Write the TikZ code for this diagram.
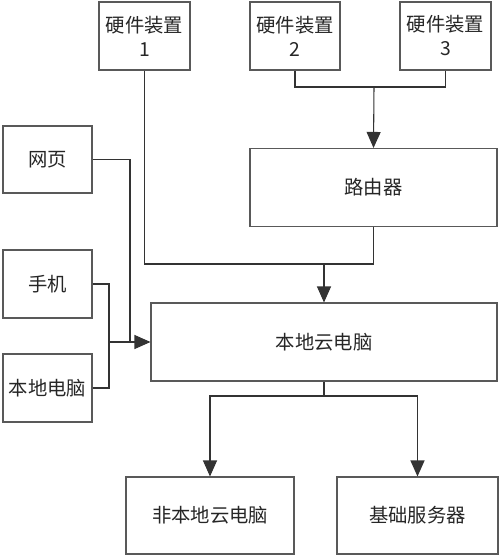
\documentclass[tikz,border=0pt]{standalone}
\usepackage{fontspec}
\setmainfont{Noto Sans CJK SC}
\usetikzlibrary{arrows.meta}
\begin{document}
\begin{tikzpicture}[x=0.75pt,y=-0.75pt,>={Triangle[length=8pt,width=7pt,scale=1.5]},font=\fontsize{14.5}{18}\selectfont]
    \tikzstyle{rec}=[draw=black!65,line width=0.8pt,rectangle,inner sep=0pt,align=center,text=black!85]
    \tikzstyle{wire}=[draw=black!80,line width=0.8pt]
    \useasboundingbox (0,0) rectangle (500,556);

    \node[rec, minimum width=68.25pt, minimum height=51pt] (hw1) at (144.5,36) {硬件装置\\1};
    \node[rec, minimum width=67.5pt, minimum height=51pt] (hw2) at (295,36) {硬件装置\\2};
    \node[rec, minimum width=68.25pt, minimum height=51pt] (hw3) at (445.5,36) {硬件装置\\3};
    \node[rec, minimum width=185.25pt, minimum height=58.5pt] (router) at (373.5,187.5) {路由器};
    \node[rec, minimum width=259.5pt, minimum height=58.5pt] (local) at (324,342) {本地云电脑};
    \node[rec, minimum width=66.75pt, minimum height=50.25pt] (web) at (47.5,159.5) {网页};
    \node[rec, minimum width=66.75pt, minimum height=51pt] (phone) at (47.5,284) {手机};
    \node[rec, minimum width=66.75pt, minimum height=51pt] (pc) at (47.5,388) {本地电脑};
    \node[rec, minimum width=126pt, minimum height=57.75pt] (remote) at (210,515.5) {非本地云电脑};
    \node[rec, minimum width=120.75pt, minimum height=57.75pt] (server) at (417.5,515.5) {基础服务器};

    \coordinate (hwjoin) at (374,87);
    \coordinate (upjoin) at (324,264);
    \coordinate (webjoin) at (130,342);
    \coordinate (userjoin) at (109,342);
    \coordinate (downjoin) at (324,396);

    \draw[wire] (hw2.south) |- (hwjoin);
    \draw[wire] (hw3.south) |- (hwjoin);
    \draw[wire,->] (hwjoin) -- (router.north);

    \draw[wire] (hw1.south) |- (upjoin);
    \draw[wire] (router.south) |- (upjoin);
    \draw[wire,->] (upjoin) -- (local.north);

    \draw[wire] (web.east) -| (webjoin);
    \draw[wire] (phone.east) -| (userjoin);
    \draw[wire] (pc.east) -| (userjoin);
    \draw[wire,->] (userjoin) -- (local.west);

    \draw[wire] (local.south) -- (downjoin);
    \draw[wire,->] (downjoin) -| (remote.north);
    \draw[wire,->] (downjoin) -| (server.north);

\end{tikzpicture}
\end{document}
